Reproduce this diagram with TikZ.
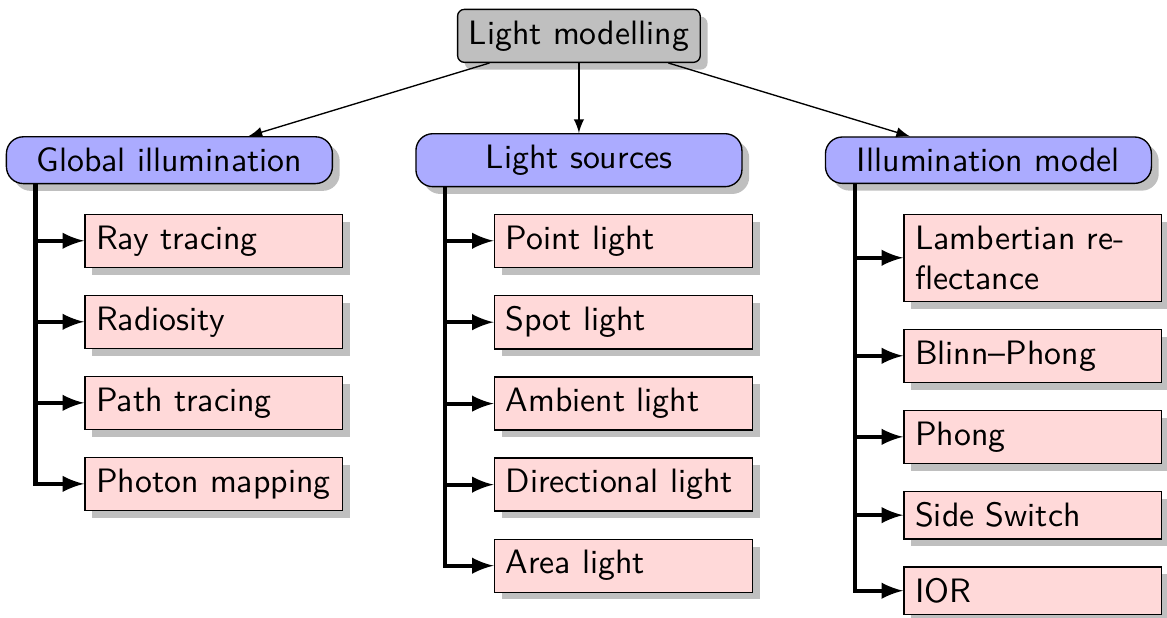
\documentclass[tikz,border=0pt]{standalone}
\usepackage{tikz}
\usepackage{xcolor}
\usetikzlibrary{arrows, positioning, shadows}
\tikzstyle{topic} = [rectangle, rounded corners=2pt, text centered, draw=black, fill=black!25, drop shadow, font=\sffamily]
\tikzstyle{category} = [rectangle, rounded corners=5pt, minimum width=96.4pt, text centered, draw=black, fill=blue!33, drop shadow, font=\sffamily]
\tikzstyle{method} = [rectangle, text width=69.6pt, align=left, draw=black, fill=red!15, drop shadow, font=\sffamily]
\tikzstyle{arrow} = [->,>=latex]
\tikzstyle{branch} = [very thick,->,>=latex]

\begin{document}
\begin{tikzpicture}[node distance=7.9pt]
\useasboundingbox (-171.2pt,10.6pt) rectangle (173.9pt,-172.1pt);

% Root
\node (light-model) [topic] {Light modelling};

% Categories
\node (light-src) [category, below=20.7pt of light-model] {Light sources};
\node (global-illum) [category, left=24.3pt of light-src] {Global illumination};
\node (illum-model) [category, right=24.3pt of light-src] {Illumination model};

% Global illumination
\node (ray-tracing) [method, below=15.8pt of global-illum.west, anchor=north west, xshift=23.2pt] {Ray tracing};
\node (radiosity) [method, below=of ray-tracing] {Radiosity};
\node (path-tracing) [method, below=of radiosity] {Path tracing};
\node (photon-map) [method, below=of path-tracing] {Photon mapping};

% Light sources
\node (point-light) [method, below=15.8pt of light-src.west, anchor=north west, xshift=23.2pt] {Point light};
\node (spot-light) [method, below=of point-light] {Spot light};
\node (ambient-light) [method, below=of spot-light] {Ambient light};
\node (dir-light) [method, below=of ambient-light] {Directional light};
\node (area-light) [method, below=of dir-light] {Area light};

% Illumination model
\node (lambert) [method, below=15.8pt of illum-model.west, anchor=north west, xshift=23.2pt] {Lambertian re-\\flectance};
\node (blinn-phong) [method, below=of lambert] {Blinn--Phong};
\node (phong) [method, below=of blinn-phong] {Phong};
\node (side-switch) [method, below=of phong] {Side Switch};
\node (ior) [method, below=of side-switch] {IOR};

% Arrows
\draw [arrow] (light-model) -- (global-illum);
\draw [arrow] (light-model) -- (light-src);
\draw [arrow] (light-model) -- (illum-model);

\draw [branch] ([xshift=8.8pt]global-illum.south west) |- (ray-tracing.west);
\draw [branch] ([xshift=8.8pt]global-illum.south west) |- (radiosity.west);
\draw [branch] ([xshift=8.8pt]global-illum.south west) |- (path-tracing.west);
\draw [branch] ([xshift=8.8pt]global-illum.south west) |- (photon-map.west);

\draw [branch] ([xshift=8.8pt]light-src.south west) |- (point-light.west);
\draw [branch] ([xshift=8.8pt]light-src.south west) |- (spot-light.west);
\draw [branch] ([xshift=8.8pt]light-src.south west) |- (ambient-light.west);
\draw [branch] ([xshift=8.8pt]light-src.south west) |- (dir-light.west);
\draw [branch] ([xshift=8.8pt]light-src.south west) |- (area-light.west);

\draw [branch] ([xshift=8.8pt]illum-model.south west) |- (lambert.west);
\draw [branch] ([xshift=8.8pt]illum-model.south west) |- (blinn-phong.west);
\draw [branch] ([xshift=8.8pt]illum-model.south west) |- (phong.west);
\draw [branch] ([xshift=8.8pt]illum-model.south west) |- (side-switch.west);
\draw [branch] ([xshift=8.8pt]illum-model.south west) |- (ior.west);

\end{tikzpicture}
\end{document}
